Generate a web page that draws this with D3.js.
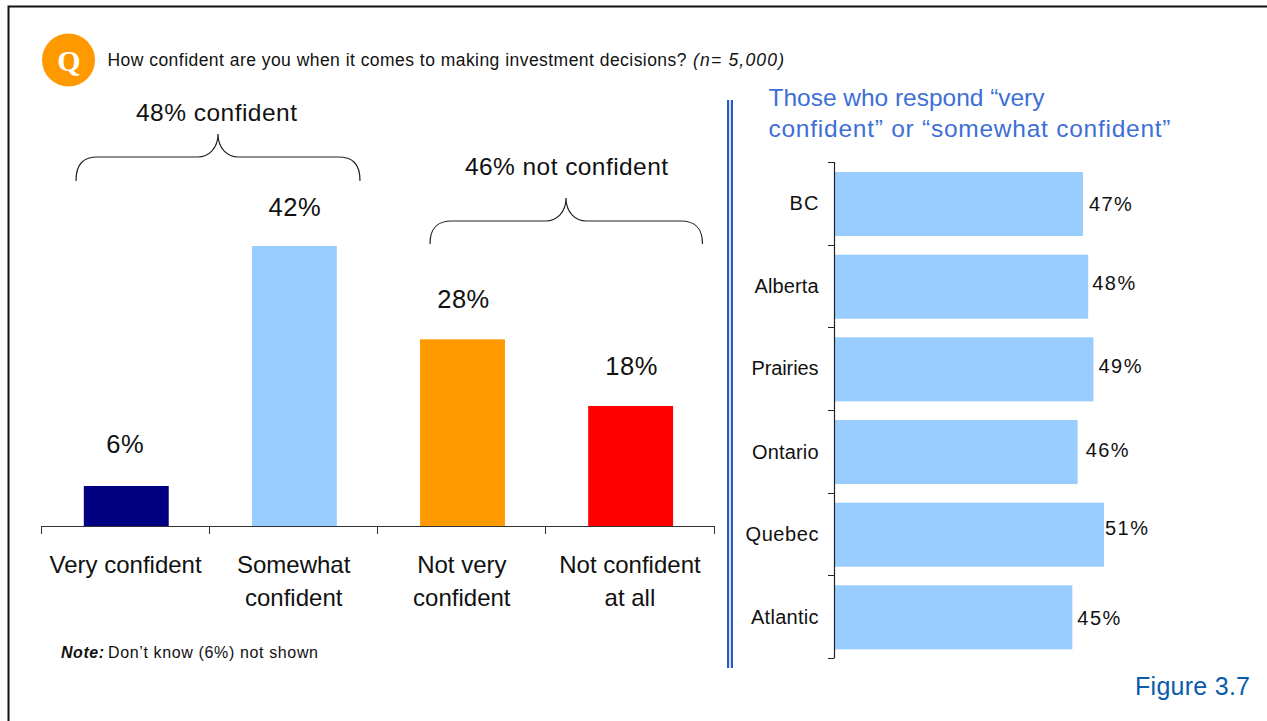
<!DOCTYPE html>
<html><head><meta charset="utf-8">
<script src="https://cdn.jsdelivr.net/npm/d3@7"></script>
<style>html,body{margin:0;padding:0;background:#fff}svg{display:block}text{font-family:"Liberation Sans",Arial,sans-serif;fill:#111}</style>
</head><body><svg id="c" width="1267" height="721"></svg>
<script>
const responses = ["Very confident","Somewhat confident","Not very confident","Not confident at all"];
const responseValues = [6,42,28,18];
const responseColors = ["#000080","#99ccff","#ff9900","#ff0000"];
const regions = ["BC","Alberta","Prairies","Ontario","Quebec","Atlantic"];
const regionValues = [47,48,49,46,51,45];
const responseLabelNudgeX = [-1,0.5,1,1];
const responseLabelNudgeY = [-3,0,-1,-1];
const regionLabelNudgeX = [6,4,5,8,1,5];
const regionLabelNudgeY = [0,-3,-3,-2,-6,1];
const regionNameNudgeY = [-1,0,-1,0,0,0];
const regionNameWidths = [29,64,67,66.5,73,67.5];

const svg = d3.select("#c");
// width-fit helper: the reference face runs wider than Liberation Sans
const fit = (sel,w)=>sel.attr("textLength",w).attr("lengthAdjust","spacing");

// frame
svg.append("path").attr("d","M8.5,721V6.5H1267").attr("fill","none").attr("stroke","#111").attr("stroke-width",2);

// header
svg.append("circle").attr("cx",68.5).attr("cy",60).attr("r",26.5).attr("fill","#ff9900");
svg.append("text").attr("x",69).attr("y",70.5).attr("text-anchor","middle")
  .style("font-family","'Liberation Serif',serif").style("font-weight","bold").style("font-size","30px").style("fill","#fff").text("Q");
fit(svg.append("text").attr("x",107.5).attr("y",66).style("font-size","17.5px")
  .text("How confident are you when it comes to making investment decisions?"),579);
fit(svg.append("text").attr("x",693).attr("y",66).style("font-size","17.5px").style("font-style","italic").text("(n= 5,000)"),91);

// left chart
const x = d3.scaleBand().domain(responses).range([42.2,714.7]).paddingInner(0.495).paddingOuter(0.2475);
const y = d3.scaleLinear().domain([0,42]).range([526,246]);
const left = svg.append("g");
left.selectAll("rect").data(responses).join("rect")
  .attr("x",d=>x(d)).attr("width",x.bandwidth())
  .attr("y",(d,i)=>y(responseValues[i])).attr("height",(d,i)=>y(0)-y(responseValues[i]))
  .attr("fill",(d,i)=>responseColors[i]);
const ax = left.append("g").attr("transform","translate(0,526)").call(d3.axisBottom(x).tickSize(0).tickFormat(""));
ax.select(".domain").attr("stroke","#333").attr("d","M41,0.5H714");
const step = x.step();
const edges = d3.range(responses.length+1).map(i=>41.5+i*step);
left.selectAll("line.t").data(edges).join("line").attr("class","t")
  .attr("x1",d=>Math.floor(d)+0.5).attr("x2",d=>Math.floor(d)+0.5).attr("y1",526).attr("y2",534).attr("stroke","#333");
left.selectAll("text.v").data(responses).join("text").attr("class","v")
  .attr("x",(d,i)=>x(d)+x.bandwidth()/2+responseLabelNudgeX[i]).attr("y",(d,i)=>y(responseValues[i])-30+responseLabelNudgeY[i])
  .attr("text-anchor","middle").style("font-size","25.5px").style("letter-spacing","0.5px").text((d,i)=>responseValues[i]+"%");
const catLines = [["Very confident"],["Somewhat","confident"],["Not very","confident"],["Not confident","at all"]];
catLines.forEach((ls,i)=>ls.forEach((l,j)=>{
  left.append("text").attr("x",x(responses[i])+x.bandwidth()/2-0.7).attr("y",573+j*33)
    .attr("text-anchor","middle").style("font-size","24px").text(l);
}));
// braces
function brace(x0,x1,xm,yBot,yMid,yTop){
  return `M${x0},${yBot}C${x0},${yMid+6} ${x0+8},${yMid} ${x0+22},${yMid}H${xm-20}C${xm-10},${yMid} ${xm},${yMid-8} ${xm},${yTop}C${xm},${yMid-8} ${xm+10},${yMid} ${xm+20},${yMid}H${x1-22}C${x1-8},${yMid} ${x1},${yMid+6} ${x1},${yBot}`;
}
svg.append("path").attr("d",brace(76,360,218,181,157,134)).attr("fill","none").attr("stroke","#222").attr("stroke-width",1.2);
svg.append("path").attr("d",brace(430,702.5,566,244,221,198)).attr("fill","none").attr("stroke","#222").attr("stroke-width",1.2);
fit(svg.append("text").attr("x",136).attr("y",121).style("font-size","24.5px").text("48% confident"),161);
fit(svg.append("text").attr("x",465).attr("y",175).style("font-size","24.5px").text("46% not confident"),203);
// note
fit(svg.append("text").attr("x",61).attr("y",658).style("font-size","16px").style("font-weight","bold").style("font-style","italic").text("Note:"),43);
fit(svg.append("text").attr("x",108).attr("y",658).style("font-size","16px").text("Don\u2019t know (6%) not shown"),210);

// divider
svg.append("rect").attr("x",727).attr("y",100).attr("width",6).attr("height",568).attr("fill","#2a5cc8");
svg.append("rect").attr("x",729).attr("y",100).attr("width",2).attr("height",568).attr("fill","#d5dff5");

// right title
[["Those who respond \u201cvery",106,276],["confident\u201d or \u201csomewhat confident\u201d",137,402]].forEach(([t,yy,w])=>{
  fit(svg.append("text").attr("x",768.5).attr("y",yy).style("font-size","24.5px").style("fill","#3d6fd6").text(t),w);
});

// right chart
const ry = d3.scaleBand().domain(regions).range([162.7,658.7]).paddingInner(0.225).paddingOuter(0.1125);
const rx = d3.scaleLinear().domain([0,51]).range([835,1104]);
const right = svg.append("g");
right.selectAll("rect").data(regions).join("rect")
  .attr("x",rx(0)).attr("y",d=>ry(d)).attr("height",ry.bandwidth())
  .attr("width",(d,i)=>rx(regionValues[i])-rx(0)).attr("fill","#99ccff");
const ay = right.append("g").attr("transform","translate(834.5,0)").call(d3.axisLeft(ry).tickSize(0).tickFormat(""));
ay.select(".domain").attr("stroke","#222").attr("stroke-width",1.2).attr("d","M0,162V658");
const rstep = ry.step();
const redges = d3.range(regions.length+1).map(i=>162+i*rstep);
right.selectAll("line.t").data(redges).join("line").attr("class","t")
  .attr("x1",828).attr("x2",834.5).attr("y1",d=>Math.round(d)+0.5).attr("y2",d=>Math.round(d)+0.5).attr("stroke","#222");
right.selectAll("text.n").data(regions).join("text").attr("class","n")
  .attr("x",(d,i)=>818.5-regionNameWidths[i]).attr("y",(d,i)=>ry(d)+ry.bandwidth()/2+6.5+regionNameNudgeY[i])
  .attr("textLength",(d,i)=>regionNameWidths[i]).attr("lengthAdjust","spacing")
  .style("font-size","20px").text(d=>d);
right.selectAll("text.v").data(regions).join("text").attr("class","v")
  .attr("x",(d,i)=>rx(regionValues[i])+regionLabelNudgeX[i]).attr("y",(d,i)=>ry(d)+ry.bandwidth()/2+6.5+regionLabelNudgeY[i])
  .style("font-size","20px").attr("textLength",43).attr("lengthAdjust","spacing").text((d,i)=>regionValues[i]+"%");

fit(svg.append("text").attr("x",1135).attr("y",695).style("font-size","25px").style("fill","#0a5cab").text("Figure 3.7"),115);
</script></body></html>
